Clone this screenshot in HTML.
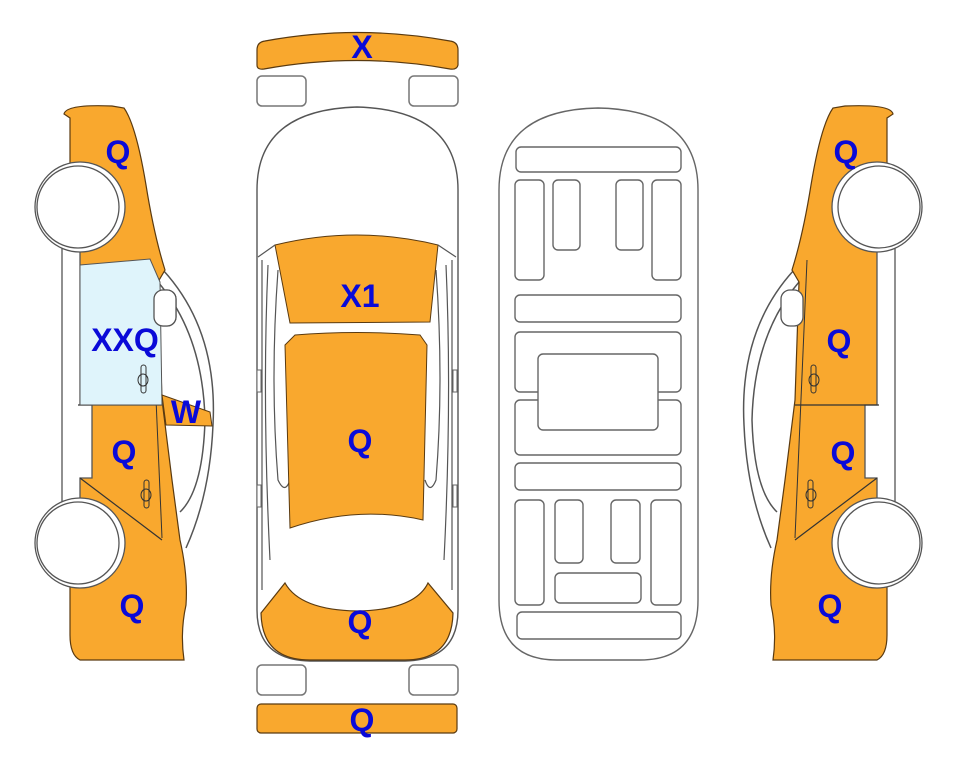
<!DOCTYPE html>
<html><head><meta charset="utf-8"><style>
html,body{margin:0;padding:0;background:#fff;}
svg{display:block}
text{font-family:"Liberation Sans",sans-serif;font-weight:bold;font-size:32px;fill:#0a0ad8;text-anchor:middle}
</style></head><body>
<svg width="963" height="768" viewBox="0 0 963 768" xmlns="http://www.w3.org/2000/svg">
<defs>
<g id="side">
  <path d="M163,270 Q218,330 213,425 Q210,495 186,548" fill="none" stroke="#555" stroke-width="1.5"/>
  <path d="M158,282 Q203,335 205,420 Q203,490 180,512" fill="none" stroke="#555" stroke-width="1.5"/>
  <path d="M64,114 Q66,104 112,106 L124,108 Q136,125 146,185 Q154,235 165,270 L158,282 L162,400 L172,480 L180,540 Q188,575 186,605 Q180,632 184,660 L80,660 Q70,655 70,635 L70,118 Z" fill="#F9A82E" stroke="#5a3a10" stroke-width="1.2"/>
  <path d="M62,243 L80,243 L80,405 L92,405 L92,478 L80,478 L80,505 L62,505 Z" fill="#fff" stroke="#555" stroke-width="1.3"/>
  <line x1="80" y1="478" x2="162" y2="540" stroke="#333" stroke-width="1.2"/>
  <line x1="150" y1="260" x2="162" y2="538" stroke="#333" stroke-width="1"/>
  <rect x="154" y="290" width="22" height="36" rx="9" fill="#fff" stroke="#555" stroke-width="1.3"/>
  <circle cx="80" cy="207" r="45" fill="#fff" stroke="#555" stroke-width="1.3"/>
  <circle cx="78" cy="207" r="41" fill="#fff" stroke="#555" stroke-width="1.3"/>
  <circle cx="80" cy="543" r="45" fill="#fff" stroke="#555" stroke-width="1.3"/>
  <circle cx="78" cy="543" r="41" fill="#fff" stroke="#555" stroke-width="1.3"/>
  <line x1="78" y1="405" x2="162" y2="405" stroke="#333" stroke-width="1.2"/>
  <rect x="141" y="365" width="5" height="28" rx="2.5" fill="none" stroke="#333" stroke-width="1"/>
  <ellipse cx="143" cy="380" rx="5" ry="6" fill="none" stroke="#333" stroke-width="1"/>
  <rect x="144" y="480" width="5" height="28" rx="2.5" fill="none" stroke="#333" stroke-width="1"/>
  <ellipse cx="146" cy="495" rx="5" ry="6" fill="none" stroke="#333" stroke-width="1"/>
</g>
</defs>

<use href="#side"/>
<path d="M80,265 L150,259 L160,282 L162,405 L80,405 Z" fill="#dff4fb" stroke="#555" stroke-width="1"/>
<rect x="154" y="290" width="22" height="36" rx="9" fill="#fff" stroke="#555" stroke-width="1.3"/>
<rect x="141" y="365" width="5" height="28" rx="2.5" fill="none" stroke="#333" stroke-width="1"/>
<ellipse cx="143" cy="380" rx="5" ry="6" fill="none" stroke="#333" stroke-width="1"/>
<path d="M162,395 L210,412 L212,426 L166,425 Z" fill="#F9A82E" stroke="#5a3a10" stroke-width="1"/>
<text x="118" y="163">Q</text>
<text x="125" y="351">XXQ</text>
<text x="186" y="423">W</text>
<text x="124" y="463">Q</text>
<text x="132" y="617">Q</text>

<g transform="translate(957,0) scale(-1,1)"><use href="#side"/></g>
<text x="846" y="163">Q</text>
<text x="839" y="352">Q</text>
<text x="843" y="464">Q</text>
<text x="830" y="617">Q</text>

<path d="M257,50 Q257,42 265,41 Q357,24 450,41 Q458,42 458,50 L458,65 Q457,70 450,69 Q357,52 264,69 Q257,70 257,65 Z" fill="#F9A82E" stroke="#5a3a10" stroke-width="1.2"/>
<text x="362" y="58">X</text>
<rect x="257" y="76" width="49" height="30" rx="5" fill="#fff" stroke="#777" stroke-width="1.5"/>
<rect x="409" y="76" width="49" height="30" rx="5" fill="#fff" stroke="#777" stroke-width="1.5"/>
<path d="M257,190 Q257,110 357,107 Q458,110 458,190 L458,610 Q458,660 405,661 L310,661 Q257,660 257,610 Z" fill="#fff" stroke="#555" stroke-width="1.4"/>
<path d="M262,260 L262,590 M452,260 L452,590" stroke="#555" stroke-width="1.2" fill="none"/>
<path d="M268,265 Q262,400 270,560 M446,265 Q452,400 444,560" stroke="#555" stroke-width="1.2" fill="none"/>
<path d="M278,270 Q270,380 278,480 Q285,495 290,480 M436,270 Q444,380 436,480 Q430,495 425,480" stroke="#555" stroke-width="1.2" fill="none"/>
<rect x="257" y="370" width="4" height="22" fill="#fff" stroke="#666"/>
<rect x="257" y="485" width="4" height="22" fill="#fff" stroke="#666"/>
<rect x="453" y="370" width="4" height="22" fill="#fff" stroke="#666"/>
<rect x="453" y="485" width="4" height="22" fill="#fff" stroke="#666"/>
<path d="M275,245 Q357,225 438,245 L430,322 L290,323 Z" fill="#F9A82E" stroke="#5a3a10" stroke-width="1"/>
<path d="M258,257 L275,245 M456,257 L438,245" stroke="#555" stroke-width="1.2"/>
<path d="M285,345 L295,335 Q357,330 420,335 L427,345 L423,520 Q357,505 290,528 Z" fill="#F9A82E" stroke="#5a3a10" stroke-width="1"/>
<path d="M261,613 L285,583 Q300,610 357,611 Q415,610 428,583 L453,613 Q452,660 405,660 L310,660 Q262,660 261,613 Z" fill="#F9A82E" stroke="#5a3a10" stroke-width="1.2"/>
<text x="360" y="307">X1</text>
<text x="360" y="452">Q</text>
<text x="360" y="633">Q</text>
<rect x="257" y="665" width="49" height="30" rx="5" fill="#fff" stroke="#777" stroke-width="1.5"/>
<rect x="409" y="665" width="49" height="30" rx="5" fill="#fff" stroke="#777" stroke-width="1.5"/>
<rect x="257" y="704" width="200" height="29" rx="4" fill="#F9A82E" stroke="#5a3a10" stroke-width="1.2"/>
<text x="362" y="731">Q</text>

<g fill="#fff" stroke="#666" stroke-width="1.4">
<path d="M499,190 Q499,110 598,108 Q698,110 698,190 L698,600 Q698,660 640,660 L557,660 Q499,660 499,600 Z"/>
<rect x="516" y="147" width="165" height="25" rx="5"/>
<rect x="515" y="180" width="29" height="100" rx="5"/>
<rect x="553" y="180" width="27" height="70" rx="5"/>
<rect x="616" y="180" width="27" height="70" rx="5"/>
<rect x="652" y="180" width="29" height="100" rx="5"/>
<rect x="515" y="295" width="166" height="27" rx="5"/>
<rect x="515" y="332" width="166" height="60" rx="5"/>
<rect x="515" y="400" width="166" height="55" rx="5"/>
<rect x="538" y="354" width="120" height="76" rx="5"/>
<rect x="515" y="463" width="166" height="27" rx="5"/>
<rect x="515" y="500" width="29" height="105" rx="5"/>
<rect x="555" y="500" width="28" height="63" rx="5"/>
<rect x="611" y="500" width="29" height="63" rx="5"/>
<rect x="651" y="500" width="30" height="105" rx="5"/>
<rect x="555" y="573" width="86" height="30" rx="5"/>
<rect x="517" y="612" width="164" height="27" rx="5"/>
</g>
</svg>
</body></html>
